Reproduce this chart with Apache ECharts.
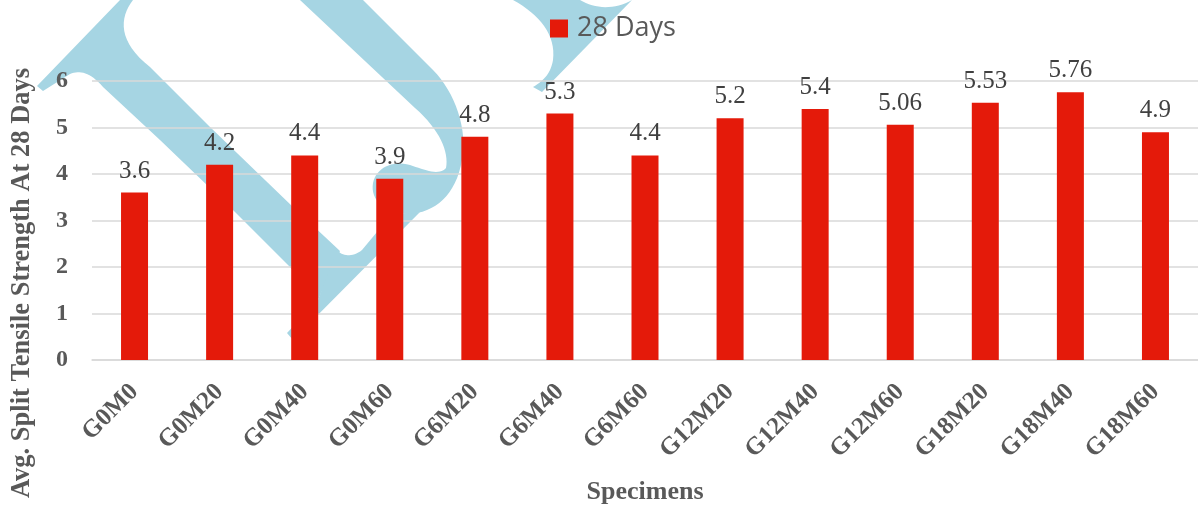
<!DOCTYPE html>
<html>
<head>
<meta charset="utf-8">
<title>Avg. Split Tensile Strength At 28 Days</title>
<script src="https://cdn.jsdelivr.net/npm/echarts/dist/echarts.min.js"></script>
<style>
  html, body { margin: 0; padding: 0; background: #ffffff; }
  #chart { width: 1198px; height: 510px; }
</style>
</head>
<body>
<div id="chart"></div>
<script>
// Specimen mixes (G = % glass, M = % metakaolin) and their 28-day split tensile strength
const categories = ['G0M0', 'G0M20', 'G0M40', 'G0M60', 'G6M20', 'G6M40', 'G6M60',
                    'G12M20', 'G12M40', 'G12M60', 'G18M20', 'G18M40', 'G18M60'];
const strength28 = [3.6, 4.2, 4.4, 3.9, 4.8, 5.3, 4.4, 5.2, 5.4, 5.06, 5.53, 5.76, 4.9];
const seriesName = '28 Days';
const yMin = 0, yMax = 6, yStep = 1;

const AXIS_GREY = '#595959';
const GRID_GREY = '#D9D9D9';
const BAR_RED = '#E41A0A';
const MARK_BLUE = '#A6D5E3';
const SERIF = '"Liberation Serif", "Times New Roman", serif';

// Light-blue logo mark sitting behind the plot (M / L / C / Z outlines in pixels)
const logoPaths = [
  'M 37 86 L 120 0 L 133 0 C 119 18 118 42 150 67 L 210 127 L 293 207 L 340 251 L 318 300 L 290 267 L 233 210 L 160 140 L 103 87 C 90 72 80 70 70 74 L 43 91 Z',
  'M 287 333 L 318 300 L 337 250 C 342 256 352 258 362 250 L 377 232 L 395 214 L 420 212 L 293 340 Z',
  'M 300 0 L 363 0 L 433 70 C 455 92 468 130 462 160 C 456 195 435 213 408 214 C 385 214 370 200 373 183 C 376 168 392 160 410 165 C 425 170 440 176 446 168 C 449 152 440 130 415 108 Z',
  'M 513 0 C 540 15 556 35 553 60 C 551 72 545 80 533 87 L 542 92 L 632 0 C 615 10 595 9 580 0 Z'
];

// Flatten an outline string into polygon points (cubic segments sampled)
function outlineToPoints(d) {
  const tok = d.trim().split(/\s+/);
  const pts = [];
  let i = 0, cur = [0, 0];
  while (i < tok.length) {
    const cmd = tok[i++];
    if (cmd === 'M' || cmd === 'L') {
      cur = [+tok[i], +tok[i + 1]]; i += 2;
      pts.push(cur);
    } else if (cmd === 'C') {
      const p1 = [+tok[i], +tok[i + 1]], p2 = [+tok[i + 2], +tok[i + 3]], p3 = [+tok[i + 4], +tok[i + 5]];
      i += 6;
      const p0 = cur;
      for (let s = 1; s <= 16; s++) {
        const t = s / 16, u = 1 - t;
        pts.push([
          u * u * u * p0[0] + 3 * u * u * t * p1[0] + 3 * u * t * t * p2[0] + t * t * t * p3[0],
          u * u * u * p0[1] + 3 * u * u * t * p1[1] + 3 * u * t * t * p2[1] + t * t * t * p3[1]
        ]);
      }
      cur = p3;
    }
  }
  return pts;
}

const chart = echarts.init(document.getElementById('chart'), null, { renderer: 'canvas' });

chart.setOption({
  backgroundColor: '#ffffff',
  animation: false,
  graphic: [
    ...logoPaths.map(d => ({
      type: 'polygon',
      z: -10,
      silent: true,
      shape: { points: outlineToPoints(d) },
      style: { fill: MARK_BLUE }
    })),
    {
      type: 'text',
      x: 22,
      y: 283,
      rotation: Math.PI / 2,
      silent: true,
      style: {
        text: 'Avg. Split Tensile Strength At 28 Days',
        fontFamily: SERIF,
        fontWeight: 'bold',
        fontSize: 26.5,
        fill: AXIS_GREY,
        align: 'center',
        verticalAlign: 'middle',
        textAlign: 'center',
        textVerticalAlign: 'middle'
      }
    }
  ],
  legend: {
    data: [seriesName],
    left: 545,
    top: 10,
    icon: 'rect',
    itemWidth: 18,
    itemHeight: 18,
    itemGap: 10,
    textStyle: {
      fontFamily: '"Open Sans", sans-serif',
      fontSize: 27,
      color: AXIS_GREY,
      padding: [0, 0, 0, 4]
    }
  },
  grid: {
    left: 92,
    top: 81,
    width: 1113,
    height: 280,
    containLabel: false
  },
  xAxis: {
    type: 'category',
    data: categories,
    name: 'Specimens',
    nameLocation: 'middle',
    nameGap: 119,
    nameTextStyle: {
      fontFamily: SERIF,
      fontWeight: 'bold',
      fontSize: 26,
      color: AXIS_GREY
    },
    axisLine: { show: true, lineStyle: { color: GRID_GREY, width: 1.5 } },
    axisTick: { show: false },
    axisLabel: {
      rotate: 45,
      margin: 28,
      interval: 0,
      fontFamily: SERIF,
      fontWeight: 'bold',
      fontSize: 25,
      color: AXIS_GREY
    }
  },
  yAxis: {
    type: 'value',
    min: yMin,
    max: yMax,
    interval: yStep,
    axisLine: { show: false },
    axisTick: { show: false },
    axisLabel: {
      margin: 24,
      fontFamily: SERIF,
      fontWeight: 'bold',
      fontSize: 24,
      color: AXIS_GREY
    },
    splitLine: { lineStyle: { color: GRID_GREY, width: 1.5 } }
  },
  series: [{
    name: seriesName,
    type: 'bar',
    data: strength28,
    barWidth: 27,
    itemStyle: { color: BAR_RED },
    label: {
      show: true,
      position: 'top',
      distance: 9,
      fontFamily: SERIF,
      fontSize: 25,
      color: '#404040'
    }
  }]
});
</script>
</body>
</html>
